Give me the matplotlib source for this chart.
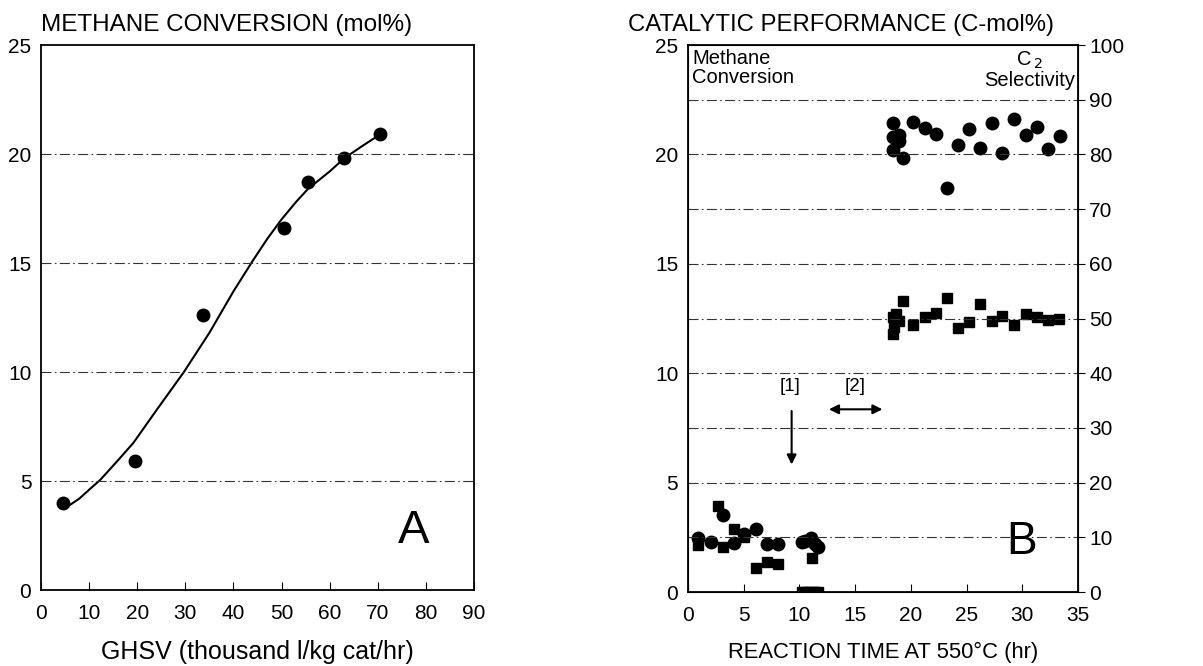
import matplotlib.pyplot as plt
import numpy as np

plt.rcParams['font.family'] = ['Liberation Sans', 'DejaVu Sans']

# ==== Panel A: methane conversion vs GHSV ====
ghsv = [4.5, 19.5, 33.7, 50.5, 55.5, 63.0, 70.5]
conv = [4.0, 5.9, 12.6, 16.6, 18.7, 19.8, 20.9]

# smooth curve drawn through the data
fit_x = [4.5, 6, 8, 10, 12.3, 16, 19.2, 24, 29.7, 35, 40, 44, 47, 50, 53, 55.5, 60, 63, 67, 70.5]
fit_y = [3.8, 3.9, 4.2, 4.6, 5.05, 5.95, 6.75, 8.25, 10.0, 11.8, 13.7, 15.1, 16.1, 17.0,
         17.8, 18.4, 19.2, 19.8, 20.4, 20.9]

# ==== Panel B: catalytic performance vs reaction time ====
circ_t = [0.9, 2.1, 3.1, 4.1, 5.05, 6.1, 7.05, 8.1, 10.2, 10.5, 11.0, 11.4, 11.7,
          18.4, 18.4, 18.9, 18.4, 18.9, 19.3, 20.2, 21.3, 22.3, 23.2, 24.2, 25.2,
          26.2, 27.3, 28.2, 29.3, 30.3, 31.3, 32.3, 33.4]
circ_y = [2.45, 2.3, 3.5, 2.25, 2.65, 2.9, 2.2, 2.2, 2.3, 2.35, 2.45, 2.2, 2.05,
          21.45, 20.8, 20.9, 20.2, 20.6, 19.85, 21.5, 21.2, 20.95, 18.45, 20.45, 21.15,
          20.3, 21.45, 20.05, 21.6, 20.9, 21.25, 20.25, 20.85]

sq_t = [0.9, 2.7, 3.1, 4.1, 5.05, 6.1, 7.05, 8.1, 11.1,
        10.2, 10.5, 10.8, 11.1, 11.4, 11.7,
        18.4, 18.5, 18.4, 18.7, 18.9, 19.3, 20.2, 21.3, 22.3, 23.2, 24.2, 25.2,
        26.2, 27.3, 28.2, 29.3, 30.3, 31.3, 32.3, 33.3]
sq_y = [2.15, 3.95, 2.05, 2.9, 2.5, 1.1, 1.35, 1.3, 1.55,
        0, 0, 0, 0, 0, 0,
        11.8, 12.1, 12.55, 12.7, 12.4, 13.3, 12.2, 12.55, 12.75, 13.45, 12.05, 12.35,
        13.15, 12.4, 12.6, 12.2, 12.7, 12.55, 12.45, 12.5]

grid_kw = dict(color='#333333', linewidth=0.8, linestyle=(0, (9, 3, 1.5, 3)))
tick_fs = 15

fig = plt.figure(figsize=(12.03, 6.66), dpi=100)

# ---- A ----
axA = fig.add_axes([0.0341, 0.1141, 0.3599, 0.8183])
axA.plot(fit_x, fit_y, color='black', linewidth=1.5)
axA.plot(ghsv, conv, 'o', color='black', markersize=9)
axA.set_xlim(0, 90)
axA.set_ylim(0, 25)
axA.set_xticks(range(0, 100, 10))
axA.set_yticks(range(0, 30, 5))
for v in [5, 10, 15, 20]:
    axA.axhline(v, **grid_kw)
axA.tick_params(axis='x', direction='in', length=6, labelsize=tick_fs, pad=10)
axA.tick_params(axis='y', length=0, labelsize=tick_fs, pad=7)
axA.text(77.5, 2.7, 'A', fontsize=34, ha='center', va='center')
axA.set_xlabel('GHSV (thousand l/kg cat/hr)', fontsize=18, labelpad=12)
axA.text(0, 25.4, 'METHANE CONVERSION (mol%)', fontsize=17.5, ha='left', va='bottom')
for s in axA.spines.values():
    s.set_linewidth(1.3)

# ---- B ----
axB = fig.add_axes([0.5719, 0.1111, 0.3242, 0.8213])
axB.plot(circ_t, circ_y, 'o', color='black', markersize=9)
axB.plot(sq_t, sq_y, 's', color='black', markersize=6.5)
axB.set_xlim(0, 35)
axB.set_ylim(0, 25)
axB.set_xticks(range(0, 40, 5))
axB.set_yticks(range(0, 30, 5))
for v in np.arange(2.5, 25, 2.5):
    axB.axhline(v, **grid_kw)
axB.tick_params(axis='x', direction='in', length=6, labelsize=tick_fs, pad=10)
axB.tick_params(axis='y', length=0, labelsize=tick_fs, pad=7)
for s in axB.spines.values():
    s.set_linewidth(1.3)

axR = axB.twinx()
axR.set_ylim(0, 100)
axR.set_yticks(range(0, 110, 10))
axR.tick_params(axis='y', direction='out', length=5, labelsize=tick_fs, pad=3)

axB.text(0.4, 24.8, 'Methane\nConversion', fontsize=14.5, ha='left', va='top', linespacing=1.0)
axB.text(34.7, 24.8, 'C$_{\\,2}$\nSelectivity', fontsize=14.5, ha='right', va='top',
         multialignment='center', linespacing=1.0)
axB.text(9.2, 9.4, '[1]', fontsize=13.5, ha='center', va='center')
axB.annotate('', xy=(9.3, 5.7), xytext=(9.3, 8.4),
             arrowprops=dict(arrowstyle='-|>', color='black', lw=1.5, mutation_scale=14))
axB.text(15.0, 9.4, '[2]', fontsize=13.5, ha='center', va='center')
axB.annotate('', xy=(17.7, 8.35), xytext=(12.4, 8.35),
             arrowprops=dict(arrowstyle='<|-|>', color='black', lw=1.5, mutation_scale=14))
axB.text(29.9, 2.3, 'B', fontsize=33, ha='center', va='center')
axB.set_xlabel('REACTION TIME AT 550°C (hr)', fontsize=15.8, labelpad=12)
axB.text(-5.4, 25.4, 'CATALYTIC PERFORMANCE (C-mol%)', fontsize=17.2, ha='left', va='bottom')

fig.savefig('out.png', dpi=100)
